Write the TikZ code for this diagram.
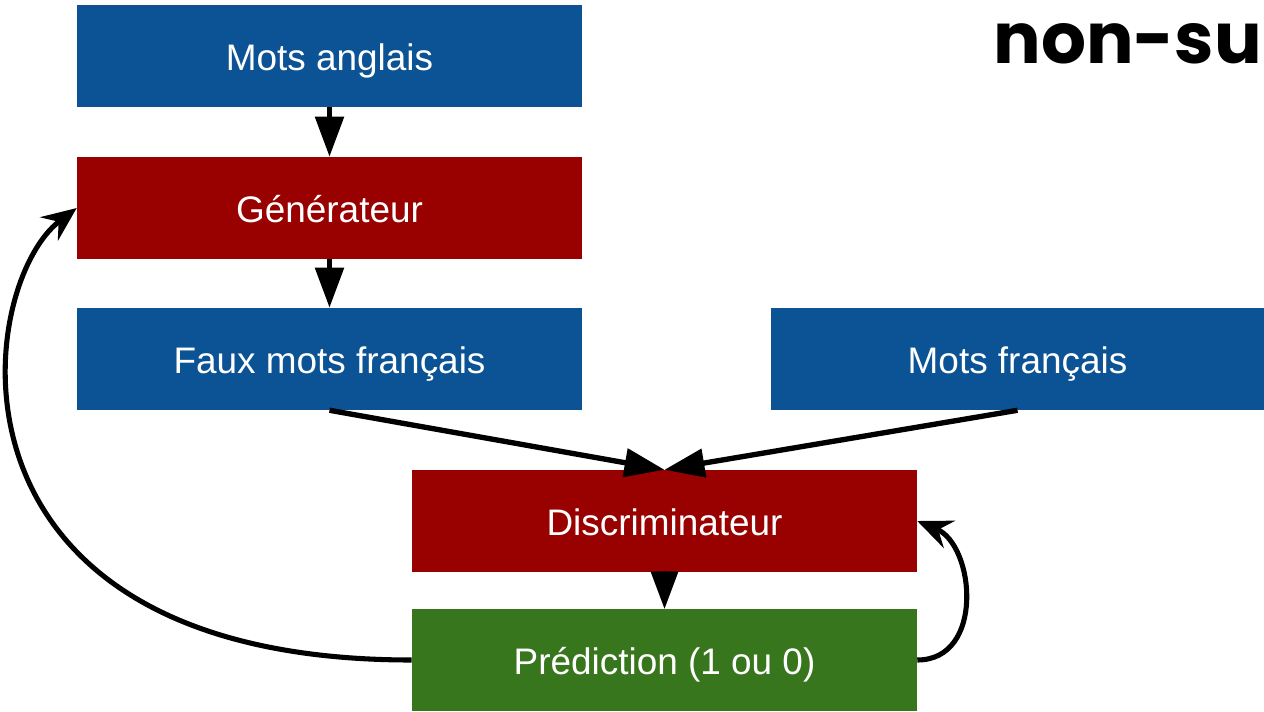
\documentclass[tikz,border=0pt]{standalone}
\usepackage{fontspec}
\setmainfont{Liberation Sans}
\newfontfamily\popfont{Poppins}
\usetikzlibrary{arrows.meta}
\definecolor{boxblue}{HTML}{0B5394}
\definecolor{boxred}{HTML}{990000}
\definecolor{boxgreen}{HTML}{38761D}
\begin{document}
\begin{tikzpicture}[x=0.75pt,y=-0.75pt,
  box/.style={rectangle, inner sep=0pt, minimum width=378.75pt, minimum height=76.5pt,
    text height=22pt, text depth=0pt,
    text=white, font=\fontsize{27.7}{32}\selectfont},
  arr/.style={line width=4pt, -{Triangle[length=30pt,width=21pt]}},
  carr/.style={line width=3.8pt, -{Stealth[length=26pt,width=22pt,inset=9pt]}}]
\useasboundingbox (0,0) rectangle (1264,711);
\node[box, fill=boxblue] (anglais) at (329.5,56) {Mots anglais};
\node[box, fill=boxred] (gen) at (329.5,208) {Générateur};
\node[box, fill=boxblue] (faux) at (329.5,359) {Faux mots français};
\node[box, fill=boxblue, minimum width=369.75pt] (fr) at (1017.5,359) {Mots français};
\node[box, fill=boxred] (disc) at (664.5,521) {Discriminateur};
\node[box, fill=boxgreen] (pred) at (664.5,660) {Prédiction (1 ou 0)};
\node[anchor=base east, inner sep=0pt, font=\popfont\bfseries\fontsize{53}{56}\selectfont] (title) at (1262,63) {non-su};
\draw[arr] (anglais.south) -- (gen.north);
\draw[arr] (gen.south) -- (faux.north);
\draw[arr] (faux.south) -- (disc.north);
\draw[arr] (fr.south) -- (disc.north);
\draw[-{Triangle[length=28pt,width=21pt]}, line width=0pt] (disc.south) -- (pred.north);
\draw[carr] (pred.west) .. controls (-75,660) and (-25,285) .. (gen.west);
\draw[carr] (pred.east) .. controls (985,660) and (975,545) .. (disc.east);
\end{tikzpicture}
\end{document}
